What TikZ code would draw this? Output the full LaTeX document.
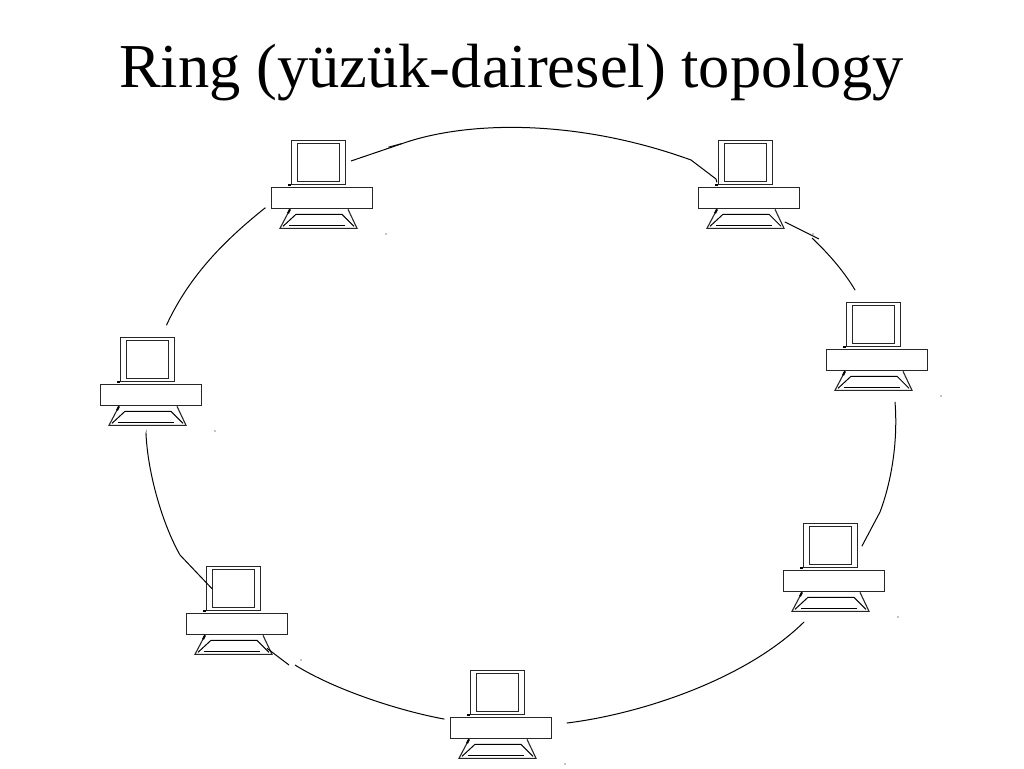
\documentclass[tikz,border=0pt]{standalone}
\usepackage{fontspec}
\setmainfont{Liberation Serif}
\usetikzlibrary{positioning}
\tikzstyle{basebox} = [rectangle, draw=black!85, line width=1.1pt, minimum width=101pt, minimum height=21.5pt, inner sep=0pt, fill=white]
\tikzstyle{monitor} = [rectangle, draw=black!85, line width=1.1pt, minimum width=54.5pt, minimum height=44pt, inner sep=0pt]
\tikzstyle{screen} = [rectangle, draw=black!85, line width=1.1pt, minimum width=42pt, minimum height=37.5pt, inner sep=0pt]
\tikzstyle{stand} = [rectangle, minimum width=77pt, minimum height=19pt, inner sep=0pt, outer sep=0pt]
\tikzstyle{ring} = [black, line width=1pt]
\tikzstyle{heading} = [font=\fontsize{62.5}{75}\selectfont, text=black, inner sep=0pt, anchor=base]
% one computer: name, x and y of the top left corner of its box
\newcommand{\computer}[3]{
\node (#1) [basebox] at (#2+51,#3+11) {};
\node (#1 mon) [monitor, above=1.5pt of #1, xshift=-3.5pt] {};
\node (#1 scr) [screen] at (#1 mon) {};
\node (#1 key) [stand, below=0pt of #1, xshift=-3.5pt] {};
\draw [line width=1.1pt, black!85] ([xshift=10pt]#1 key.north west) -- (#1 key.south west) -- (#1 key.south east) -- ([xshift=-9pt]#1 key.north east);
\draw [line width=1pt] ([shift={(3,-2)}]#1 key.south west) -- ([shift={(16,5)}]#1 key.north west) -- ([shift={(-15,5)}]#1 key.north east) -- ([shift={(-3,-2)}]#1 key.south east);
\draw [line width=1pt] ([shift={(9,-3)}]#1 key.south west) -- ([shift={(-12,-3)}]#1 key.south east);
\draw [line width=2pt] ([shift={(10,0)}]#1 key.north west) -- ++(-2,4);
\fill ([shift={(-3,-1)}]#1 mon.south west) rectangle ++(3,2);
\fill ([shift={(115,47)}]#2,#3) circle (0.6pt);
}

\begin{document}
\begin{tikzpicture}[x=1pt,y=-1pt]
\useasboundingbox (0,0) rectangle (1024,768);

\node (title) [heading] at (511.5,87) {Ring (yüzük-dairesel) topology};

\computer{a}{271}{187}
\computer{b}{698}{187}
\computer{c}{826}{349}
\computer{d}{783}{570}
\computer{e}{450}{717}
\computer{f}{186}{613}
\computer{g}{100}{384}

\draw [ring, shorten <=5pt, shorten >=3pt] (a mon.east) -- (351,161) -- (401,144) .. controls (465,121) and (575,118) .. (691,160) -- (716,179) -- (b mon.south west);
\draw [ring, line width=0.8pt] (a mon.east) ++(42,-15.5) -- ++(13,-3.5);
\draw [ring, shorten <=3.2pt] (b key.east) -- (785,222) -- (819,239);
\draw [ring, shorten >=14pt] (812,238) .. controls (830,255) and (845,273) .. (855,290) -- ([xshift=-11pt]c mon.north);
\draw [ring, shorten <=11.5pt, shorten >=3.5pt] ([xshift=-17pt]c key.south east) -- (895,402) .. controls (898,440) and (892,480) .. (880,512) -- (862,546) -- (d mon.east);
\draw [ring, shorten <=15.5pt, shorten >=15.5pt] ([xshift=-15pt]d key.south) -- (804,622) .. controls (745,680) and (640,714) .. (567,723) -- (e.east);
\draw [ring, shorten <=6pt] (e.north west) -- (444,719) .. controls (400,711) and (335,690) .. (295,665);
\draw [ring] (289,665) -- ([shift={(-5,-6)}]f key.south east);
\draw [ring, shorten <=9.5pt] (g key.south) -- (146,434) .. controls (148,475) and (163,525) .. (180,555) -- (f scr.west);
\draw [ring, shorten <=12.5pt, shorten >=5.5pt] ([xshift=15pt]g mon.north) -- (167,324) .. controls (190,275) and (225,240) .. (265,208) -- (a.south west);

\end{tikzpicture}
\end{document}
